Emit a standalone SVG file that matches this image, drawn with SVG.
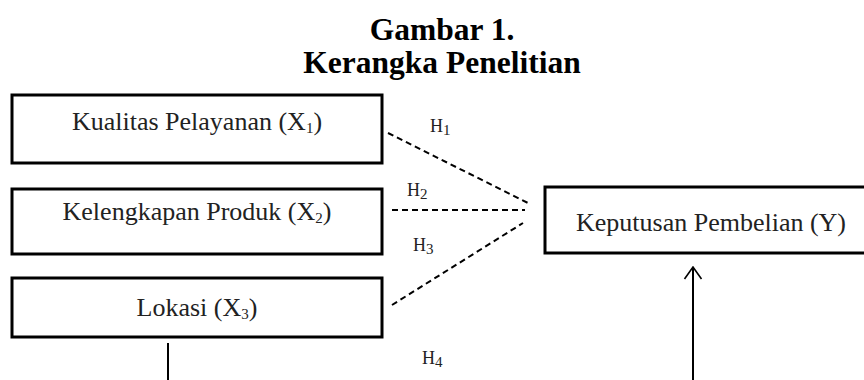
<svg xmlns="http://www.w3.org/2000/svg" width="864" height="380" viewBox="0 0 864 380">
  <style>
    .title { font-family: "Liberation Serif", "DejaVu Serif", serif; font-weight: bold; font-size: 31.5px; fill: #000; text-anchor: middle; }
    .box { fill: #fff; stroke: #000; stroke-width: 3; }
    .label { font-family: "Liberation Serif", "DejaVu Serif", serif; font-size: 26px; fill: #222; text-anchor: middle; }
    .hyp { font-family: "Liberation Serif", "DejaVu Serif", serif; font-size: 18px; fill: #222; }
    .sub { font-size: 15px; }
    .dash { stroke: #000; stroke-width: 2; stroke-dasharray: 6 4; fill: none; }
    .solid { stroke: #000; stroke-width: 2; fill: none; }
  </style>
  <defs>
    <!-- open V arrowhead, drawn along +x so orient="auto" follows the line -->
    <marker id="openArrow" markerWidth="14" markerHeight="20" refX="13" refY="10" orient="auto" markerUnits="userSpaceOnUse" viewBox="0 0 14 20">
      <path d="M1,1.5 L13,10 L1,18.5" fill="none" stroke="#000" stroke-width="1.6"/>
    </marker>
  </defs>
  <rect width="864" height="380" fill="#fff"/>

  <text class="title" x="442" y="40">Gambar 1.</text>
  <text class="title" x="442" y="73">Kerangka Penelitian</text>

  <g id="x1">
    <rect class="box" x="12" y="95" width="370" height="68"/>
    <text class="label" x="197" y="130">Kualitas Pelayanan (X<tspan class="sub" dy="3">1</tspan><tspan dy="-3">)</tspan></text>
  </g>
  <g id="x2">
    <rect class="box" x="12" y="189" width="370" height="65"/>
    <text class="label" x="197" y="220">Kelengkapan Produk (X<tspan class="sub" dy="3">2</tspan><tspan dy="-3">)</tspan></text>
  </g>
  <g id="x3">
    <rect class="box" x="12" y="278" width="370" height="59"/>
    <text class="label" x="197" y="316">Lokasi (X<tspan class="sub" dy="3">3</tspan><tspan dy="-3">)</tspan></text>
  </g>
  <g id="y">
    <rect class="box" x="545" y="187" width="330" height="66"/>
    <text class="label" x="711" y="231">Keputusan Pembelian (Y)</text>
  </g>

  <g id="connectors">
    <line class="dash" x1="388" y1="133" x2="528" y2="203"/>
    <line class="dash" x1="392" y1="210" x2="525" y2="210"/>
    <line class="dash" x1="392" y1="305" x2="523" y2="223"/>
    <line class="solid" x1="168" y1="343" x2="168" y2="380"/>
    <line class="solid" x1="693" y1="380" x2="693" y2="267" marker-end="url(#openArrow)"/>
  </g>

  <g id="hypotheses">
    <text class="hyp" x="430" y="132">H<tspan class="sub" dy="3">1</tspan></text>
    <text class="hyp" x="407" y="196">H<tspan class="sub" dy="3">2</tspan></text>
    <text class="hyp" x="413" y="251">H<tspan class="sub" dy="3">3</tspan></text>
    <text class="hyp" x="422" y="364">H<tspan class="sub" dy="3">4</tspan></text>
  </g>
</svg>
